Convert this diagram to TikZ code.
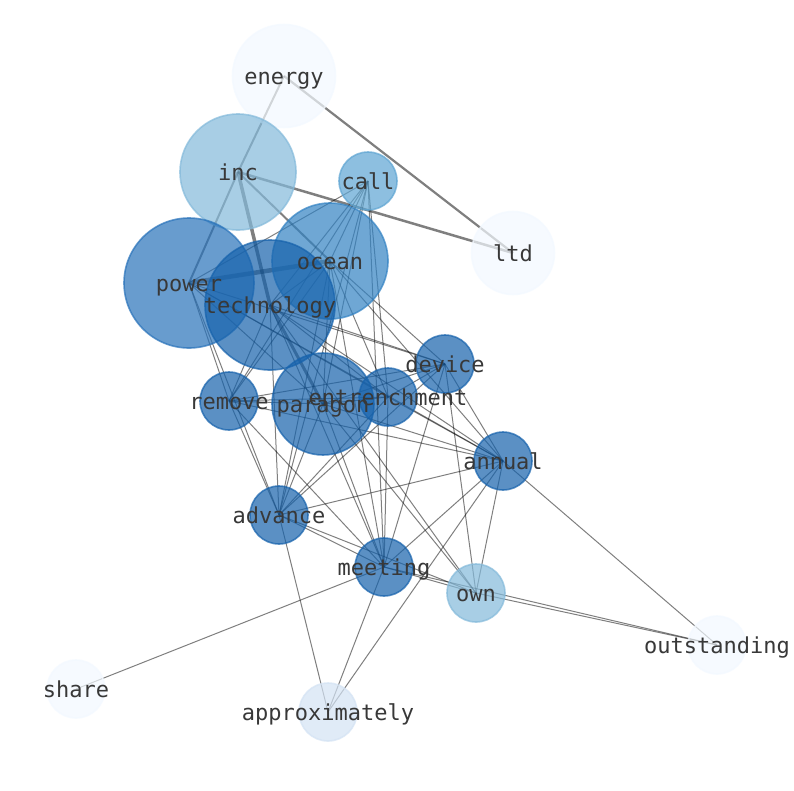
\documentclass[tikz,border=0pt]{standalone}
\usepackage{fontspec}
\newfontfamily\lblfont{DejaVu Sans Mono}
\pgfdeclarelayer{bglayer}
\pgfdeclarelayer{edgelayer}
\pgfsetlayers{bglayer,edgelayer,main}
\definecolor{cdark}{RGB}{22,98,172}
\definecolor{cpower}{RGB}{40,114,186}
\definecolor{cocean}{RGB}{50,130,195}
\definecolor{ccall}{RGB}{94,165,211}
\definecolor{cinc}{RGB}{132,186,219}
\definecolor{capprox}{RGB}{212,227,244}
\definecolor{cnone}{RGB}{243,249,255}
\tikzset{
  gnode/.style 2 args={circle, inner sep=0pt, minimum size=#1, fill=#2, draw=#2,
    fill opacity=0.7, draw opacity=0.7, line width=1.6pt},
  lbl/.style={font=\lblfont\fontsize{22}{26}\selectfont, text=black!78, inner sep=0pt, anchor=base},
  lnk/.style={draw=black, opacity=0.5, line width=1pt},
}
\begin{document}
\begin{tikzpicture}[x=1pt,y=-1pt]
\useasboundingbox (0,0) rectangle (794,790);
\begin{pgfonlayer}{bglayer}
\fill[white] (0,0) rectangle (794,790);
\end{pgfonlayer}
% nodes
\node[gnode={103}{cnone}] (energy) at (284,76) {};
\node[gnode={116}{cinc}] (inc) at (238,172) {};
\node[gnode={58}{ccall}] (call) at (368,181) {};
\node[gnode={83}{cnone}] (ltd) at (513,253) {};
\node[gnode={130}{cpower}] (power) at (189,283) {};
\node[gnode={116}{cocean}] (ocean) at (330,261) {};
\node[gnode={130}{cdark}] (technology) at (270,305) {};
\node[gnode={58}{cdark}] (device) at (445,364) {};
\node[gnode={58}{cdark}] (remove) at (229,401) {};
\node[gnode={102}{cdark}] (paragon) at (323,404) {};
\node[gnode={58}{cdark}] (entrenchment) at (388,397) {};
\node[gnode={58}{cdark}] (annual) at (503,461) {};
\node[gnode={58}{cdark}] (advance) at (279,515) {};
\node[gnode={58}{cdark}] (meeting) at (384,567) {};
\node[gnode={58}{cinc}] (own) at (476,593) {};
\node[gnode={58}{cnone}] (outstanding) at (717,645) {};
\node[gnode={58}{cnone}] (share) at (76,689) {};
\node[gnode={58}{capprox}] (approximately) at (328,712) {};
% edges
\begin{pgfonlayer}{edgelayer}
\draw[lnk, line width=2.2pt] (energy.center) -- (ltd.center);
\draw[lnk, line width=2pt] (energy.center) -- (inc.center);
\draw[lnk, line width=2pt] (inc.center) -- (power.center);
\draw[lnk, line width=2.5pt] (inc.center) -- (ltd.center);
\draw[lnk, line width=3.5pt] (inc.center) -- (technology.center);
\draw[lnk, line width=3pt] (technology.center) -- (paragon.center);
\draw[lnk, line width=4.5pt] (power.center) -- (ocean.center);
\draw[lnk, line width=2pt] (inc.center) -- (ocean.center);
\foreach \a/\b in {
  call/power, call/technology, call/remove, call/paragon, call/advance, call/entrenchment, call/meeting, call/ocean,
  ocean/technology, ocean/remove, ocean/paragon, ocean/advance, ocean/entrenchment, ocean/meeting, ocean/device, ocean/annual,
  technology/device, technology/annual, technology/entrenchment, technology/remove, technology/advance, technology/meeting, technology/own,
  power/device, power/annual, power/remove, power/advance, power/entrenchment, power/paragon,
  device/remove, device/paragon, device/entrenchment, device/annual, device/own, device/advance, device/meeting,
  remove/paragon, remove/entrenchment, remove/annual, remove/advance, remove/meeting,
  paragon/annual, paragon/advance, paragon/meeting, paragon/own, paragon/entrenchment,
  entrenchment/annual, entrenchment/advance, entrenchment/meeting,
  annual/advance, annual/meeting, annual/own, annual/approximately, annual/outstanding,
  advance/meeting, advance/own, advance/approximately,
  meeting/own, meeting/outstanding, meeting/share, meeting/approximately,
  own/outstanding}
  \draw[lnk] (\a.center) -- (\b.center);
\end{pgfonlayer}
% labels
\foreach \n in {energy, inc, call, ltd, power, ocean, technology, device, remove, paragon,
  entrenchment, annual, advance, meeting, own, outstanding, share, approximately}
  \node[lbl] (\n-t) at ([yshift=-8.5pt]\n.center) {\n};
\end{tikzpicture}
\end{document}
